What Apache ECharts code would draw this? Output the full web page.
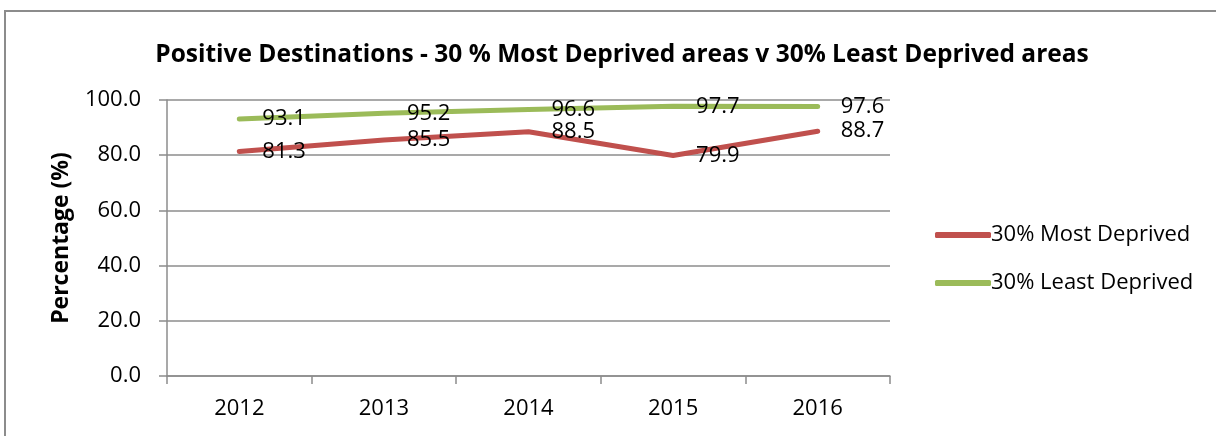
<!DOCTYPE html>
<html>
<head>
<meta charset="utf-8">
<script src="https://cdn.jsdelivr.net/npm/echarts@6/dist/echarts.min.js"></script>
<style>
  html, body { margin: 0; padding: 0; background: #fff; }
  #chart { width: 1216px; height: 436px; }
</style>
</head>
<body>
<div id="chart"></div>
<script>
var years = ["2012", "2013", "2014", "2015", "2016"];
var mostDeprived = [81.3, 85.5, 88.5, 79.9, 88.7];
var leastDeprived = [93.1, 95.2, 96.6, 97.7, 97.6];
var seriesNames = ["30% Most Deprived", "30% Least Deprived"];
var colors = ["#C0504D", "#9BBB59"];

var font = "'Open Sans', 'Liberation Sans', sans-serif";
var chart = echarts.init(document.getElementById("chart"));

function lineSeries(name, data, color) {
  return {
    name: name,
    type: "line",
    data: data,
    symbol: "circle",
    symbolSize: 2,
    showSymbol: true,
    lineStyle: { color: color, width: 5, cap: "round" },
    itemStyle: { color: "rgba(0,0,0,0)", borderWidth: 0 },
    label: {
      show: true,
      position: "right",
      distance: 22,
      opacity: 1,
      color: "#000",
      fontFamily: font,
      fontSize: 22,
      formatter: function (p) { return p.value.toFixed(1); }
    },
    labelLayout: { hideOverlap: false }
  };
}

chart.setOption({
  animation: false,
  backgroundColor: "#fff",
  graphic: [{
    type: "rect",
    shape: { x: 5, y: 11, width: 1240, height: 460 },
    style: { fill: "none", stroke: "#8c8c8c", lineWidth: 2 }
  }],
  title: {
    text: "Positive Destinations - 30 % Most Deprived areas v 30% Least Deprived areas",
    left: 617,
    textAlign: "center",
    top: 38,
    textStyle: { fontFamily: font, fontWeight: "bold", fontSize: 24.5, color: "#000" }
  },
  grid: { left: 167, right: 326, top: 100, bottom: 60, containLabel: false },
  legend: {
    orient: "vertical",
    left: 930,
    top: 219,
    itemWidth: 56,
    itemHeight: 6,
    itemGap: 26,
    icon: "roundRect",
    data: seriesNames.map(function (n, i) {
      return { name: n, icon: "roundRect", itemStyle: { color: colors[i] } };
    }),
    textStyle: { fontFamily: font, fontSize: 22, color: "#000", padding: [0, 0, 0, -5] }
  },
  xAxis: {
    type: "category",
    data: years,
    boundaryGap: true,
    axisLine: { lineStyle: { color: "#8c8c8c", width: 1.5 } },
    axisTick: { show: true, length: 8, lineStyle: { color: "#8c8c8c", width: 1.5 } },
    axisLabel: { color: "#000", fontFamily: font, fontSize: 22, margin: 22 }
  },
  yAxis: {
    type: "value",
    min: 0,
    max: 100,
    interval: 20,
    name: "Percentage (%)",
    nameLocation: "middle",
    nameGap: 94,
    nameTextStyle: { fontFamily: font, fontWeight: "bold", fontSize: 23, color: "#000" },
    axisLine: { show: true, lineStyle: { color: "#8c8c8c", width: 1.5 } },
    axisTick: { show: true, inside: false, length: 8, lineStyle: { color: "#8c8c8c", width: 1.5 } },
    splitLine: { lineStyle: { color: "#8c8c8c", width: 1.5 } },
    axisLabel: {
      color: "#000",
      fontFamily: font,
      fontSize: 22,
      margin: 26,
      formatter: function (v) { return v.toFixed(1); }
    }
  },
  series: [
    lineSeries(seriesNames[0], mostDeprived, colors[0]),
    lineSeries(seriesNames[1], leastDeprived, colors[1])
  ]
});
</script>
</body>
</html>
